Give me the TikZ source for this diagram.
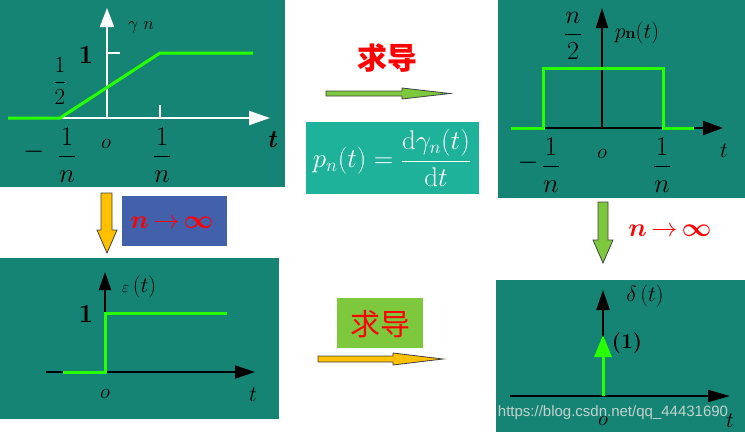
\RequirePackage{fix-cm}
\documentclass[tikz,border=0pt]{standalone}
\usepackage{amsmath}
\usepackage{fontspec}
\newfontfamily\cjk{Noto Sans CJK SC}
\newfontfamily\wmfont{Liberation Sans}
\usetikzlibrary{arrows.meta}
\definecolor{tealbg}{RGB}{22,132,116}
\definecolor{fmlbg}{RGB}{30,178,155}
\definecolor{bluebox}{RGB}{67,97,170}
\definecolor{lgreen}{RGB}{125,200,60}
\definecolor{orangec}{RGB}{255,192,0}
\definecolor{sigc}{RGB}{40,255,0}
\newcommand\fsz[1]{\fontsize{#1}{#1}\selectfont}
\newcommand\ninfty{$\boldsymbol{n}\,{\rightarrow}\,\boldsymbol{\infty}$}
\begin{document}
\begin{tikzpicture}[x=1pt,y=-1pt,
  every node/.style={inner sep=0pt,outer sep=0pt},
  panel/.style={fill=tealbg,draw=none},
  waxis/.style={white,line width=2pt},
  baxis/.style={black,line width=2pt},
  sig/.style={sigc,line width=3pt},
  blockarr/.style={draw=black!75,line width=0.8pt,line join=miter},
  lbl/.style={font=\fsz{21}},
  fraclbl/.style={font=\fsz{27}},
  smlbl/.style={font=\fsz{21}},
  ninflabel/.style={font=\fsz{26},text=red}]
\useasboundingbox (0,0) rectangle (745,432);

% ---------- panels ----------
\fill[panel] (0,0) rectangle (285,187);
\fill[panel] (498,0) rectangle (745,198);
\fill[panel] (0,258) rectangle (279,419);
\fill[panel] (496,280) rectangle (745,432);

% ---------- panel 1 : gamma_n ----------
\coordinate (p1o) at (107,118);
\coordinate (p1xs) at (8,118);
\coordinate (p1xe) at (270,118);
\coordinate (p1ye) at (107,8);
\draw[waxis,-{Triangle[length=21pt,width=14pt]}] (p1xs) -- (p1xe);
\draw[waxis,-{Triangle[length=19pt,width=14pt]}] (p1o) -- (p1ye);
\draw[waxis] (107,53) -- (120,53);
\draw[waxis] (160,105) -- (160,118);
\draw[sig] (8,118) -- (60,118) -- (160,53) -- (253,53);
\node[font=\fsz{18}] (g1) at (141,27) {$\gamma\;n$};
\node[font=\fsz{26}] (one1) at (86,55) {\textbf{1}};
\node[font=\fsz{23}] (half1) at (60,81) {$\dfrac{1}{2}$};
\node[fraclbl] (mn1) at (34,152) {$-$};
\node[fraclbl] (fa1) at (67,155) {$\dfrac{1}{n}$};
\node[smlbl] (o1) at (106,144) {$o$};
\node[fraclbl] (fb1) at (162,155) {$\dfrac{1}{n}$};
\node[font=\fsz{25}] (t1) at (272,140) {\textbf{\textit{t}}};

% ---------- panel 2 : p_n ----------
\coordinate (p2o) at (602,128);
\coordinate (p2xs) at (511,128);
\coordinate (p2xe) at (723,128);
\coordinate (p2ye) at (602,8);
\draw[baxis,-{Triangle[length=20pt,width=14pt]}] (p2xs) -- (p2xe);
\draw[baxis,-{Triangle[length=20pt,width=12pt]}] (p2o) -- (p2ye);
\draw[sig] (511,128) -- (543,128) -- (543,68) -- (663,68) -- (663,128) -- (694,128);
\node[font=\fsz{26}] (n2) at (573,36) {$\dfrac{n}{2}$};
\node[font=\fsz{22}] (pn) at (637,33) {$p$\fsz{16}\textbf{n}\fsz{22}$(t)$};
\node[fraclbl] (mn2) at (528,163) {$-$};
\node[fraclbl] (fa2) at (551,165) {$\dfrac{1}{n}$};
\node[smlbl] (o2) at (602,154) {$o$};
\node[fraclbl] (fb2) at (662,165) {$\dfrac{1}{n}$};
\node[font=\fsz{22}] (t2) at (724,151) {$t$};

% ---------- middle top ----------
\node[font=\cjk\bfseries\fsz{30},text=red] (d1) at (387,58) {求导};
\draw[blockarr,fill=lgreen] (326,91) -- (402,91) -- (402,88) -- (450,93.5)
  -- (402,99) -- (402,96) -- (326,96) -- cycle;
\fill[fmlbg] (306,122) rectangle (479,194);
\node[font=\fsz{27},text=white] (fml) at (392,158)
  {$p_n(t)=\dfrac{\mathrm{d}\gamma_n(t)}{\mathrm{d}t}$};

% ---------- left n -> infinity ----------
\draw[blockarr,fill=orangec] (101,193) -- (112,193) -- (112,230) -- (117,230)
  -- (107,253) -- (97,230) -- (101,230) -- cycle;
\fill[bluebox] (122,196) rectangle (227,246);
\node[ninflabel] (ninf1) at (172,223) {\ninfty};

% ---------- right n -> infinity ----------
\draw[blockarr,fill=lgreen] (598,202) -- (608,202) -- (608,240) -- (613,240)
  -- (603,263) -- (593,240) -- (598,240) -- cycle;
\node[ninflabel] (ninf2) at (670,231) {\ninfty};

% ---------- panel 3 : epsilon ----------
\coordinate (p3o) at (105,372);
\coordinate (p3xs) at (46,372);
\coordinate (p3xe) at (255,372);
\coordinate (p3ye) at (105,272);
\draw[baxis,-{Triangle[length=20pt,width=13pt]}] (p3xs) -- (p3xe);
\draw[baxis,-{Triangle[length=18pt,width=12pt]}] (p3o) -- (p3ye);
\draw[sig] (63,372) -- (105,372) -- (105,313) -- (227,313);
\node[font=\fsz{22}] (eps) at (139,287) {{\fsz{16}$\varepsilon$}\,$(t)$};
\node[font=\fsz{26}] (one3) at (86,314) {\textbf{1}};
\node[smlbl] (o3) at (105,394) {$o$};
\node[font=\fsz{22}] (t3) at (253,395) {$t$};

% ---------- middle bottom ----------
\fill[lgreen] (337,298) rectangle (423,348);
\node[font=\cjk\fsz{30},text=red] (d2) at (380,324) {求导};
\draw[blockarr,fill=orangec] (318,356) -- (393,356) -- (393,353) -- (443,359)
  -- (393,365) -- (393,362) -- (318,362) -- cycle;

% ---------- panel 4 : delta ----------
\coordinate (p4o) at (603,396);
\coordinate (p4xs) at (510,396);
\coordinate (p4xe) at (730,396);
\coordinate (p4ye) at (603,290);
\coordinate (p4de) at (603,335);
\draw[baxis,-{Triangle[length=22pt,width=12pt]}] (p4xs) -- (p4xe);
\draw[baxis,-{Triangle[length=20pt,width=13pt]}] (p4o) -- (p4ye);
\draw[sigc,line width=3pt,-{Triangle[length=22pt,width=17pt]}] (p4o) -- (p4de);
\node[font=\fsz{22}] (del) at (645,296) {$\delta\,(t)$};
\node[font=\fsz{21}] (one4) at (627,343) {\textbf{(1)}};
\node[smlbl] (o4) at (603,421) {$o$};
\node[font=\fsz{22}] (t4) at (730,421) {$t$};
\node[font=\wmfont\fsz{15},text=gray!25,opacity=0.85] (wm) at (613,413)
  {https://blog.csdn.net/qq\_44431690};
\end{tikzpicture}
\end{document}
